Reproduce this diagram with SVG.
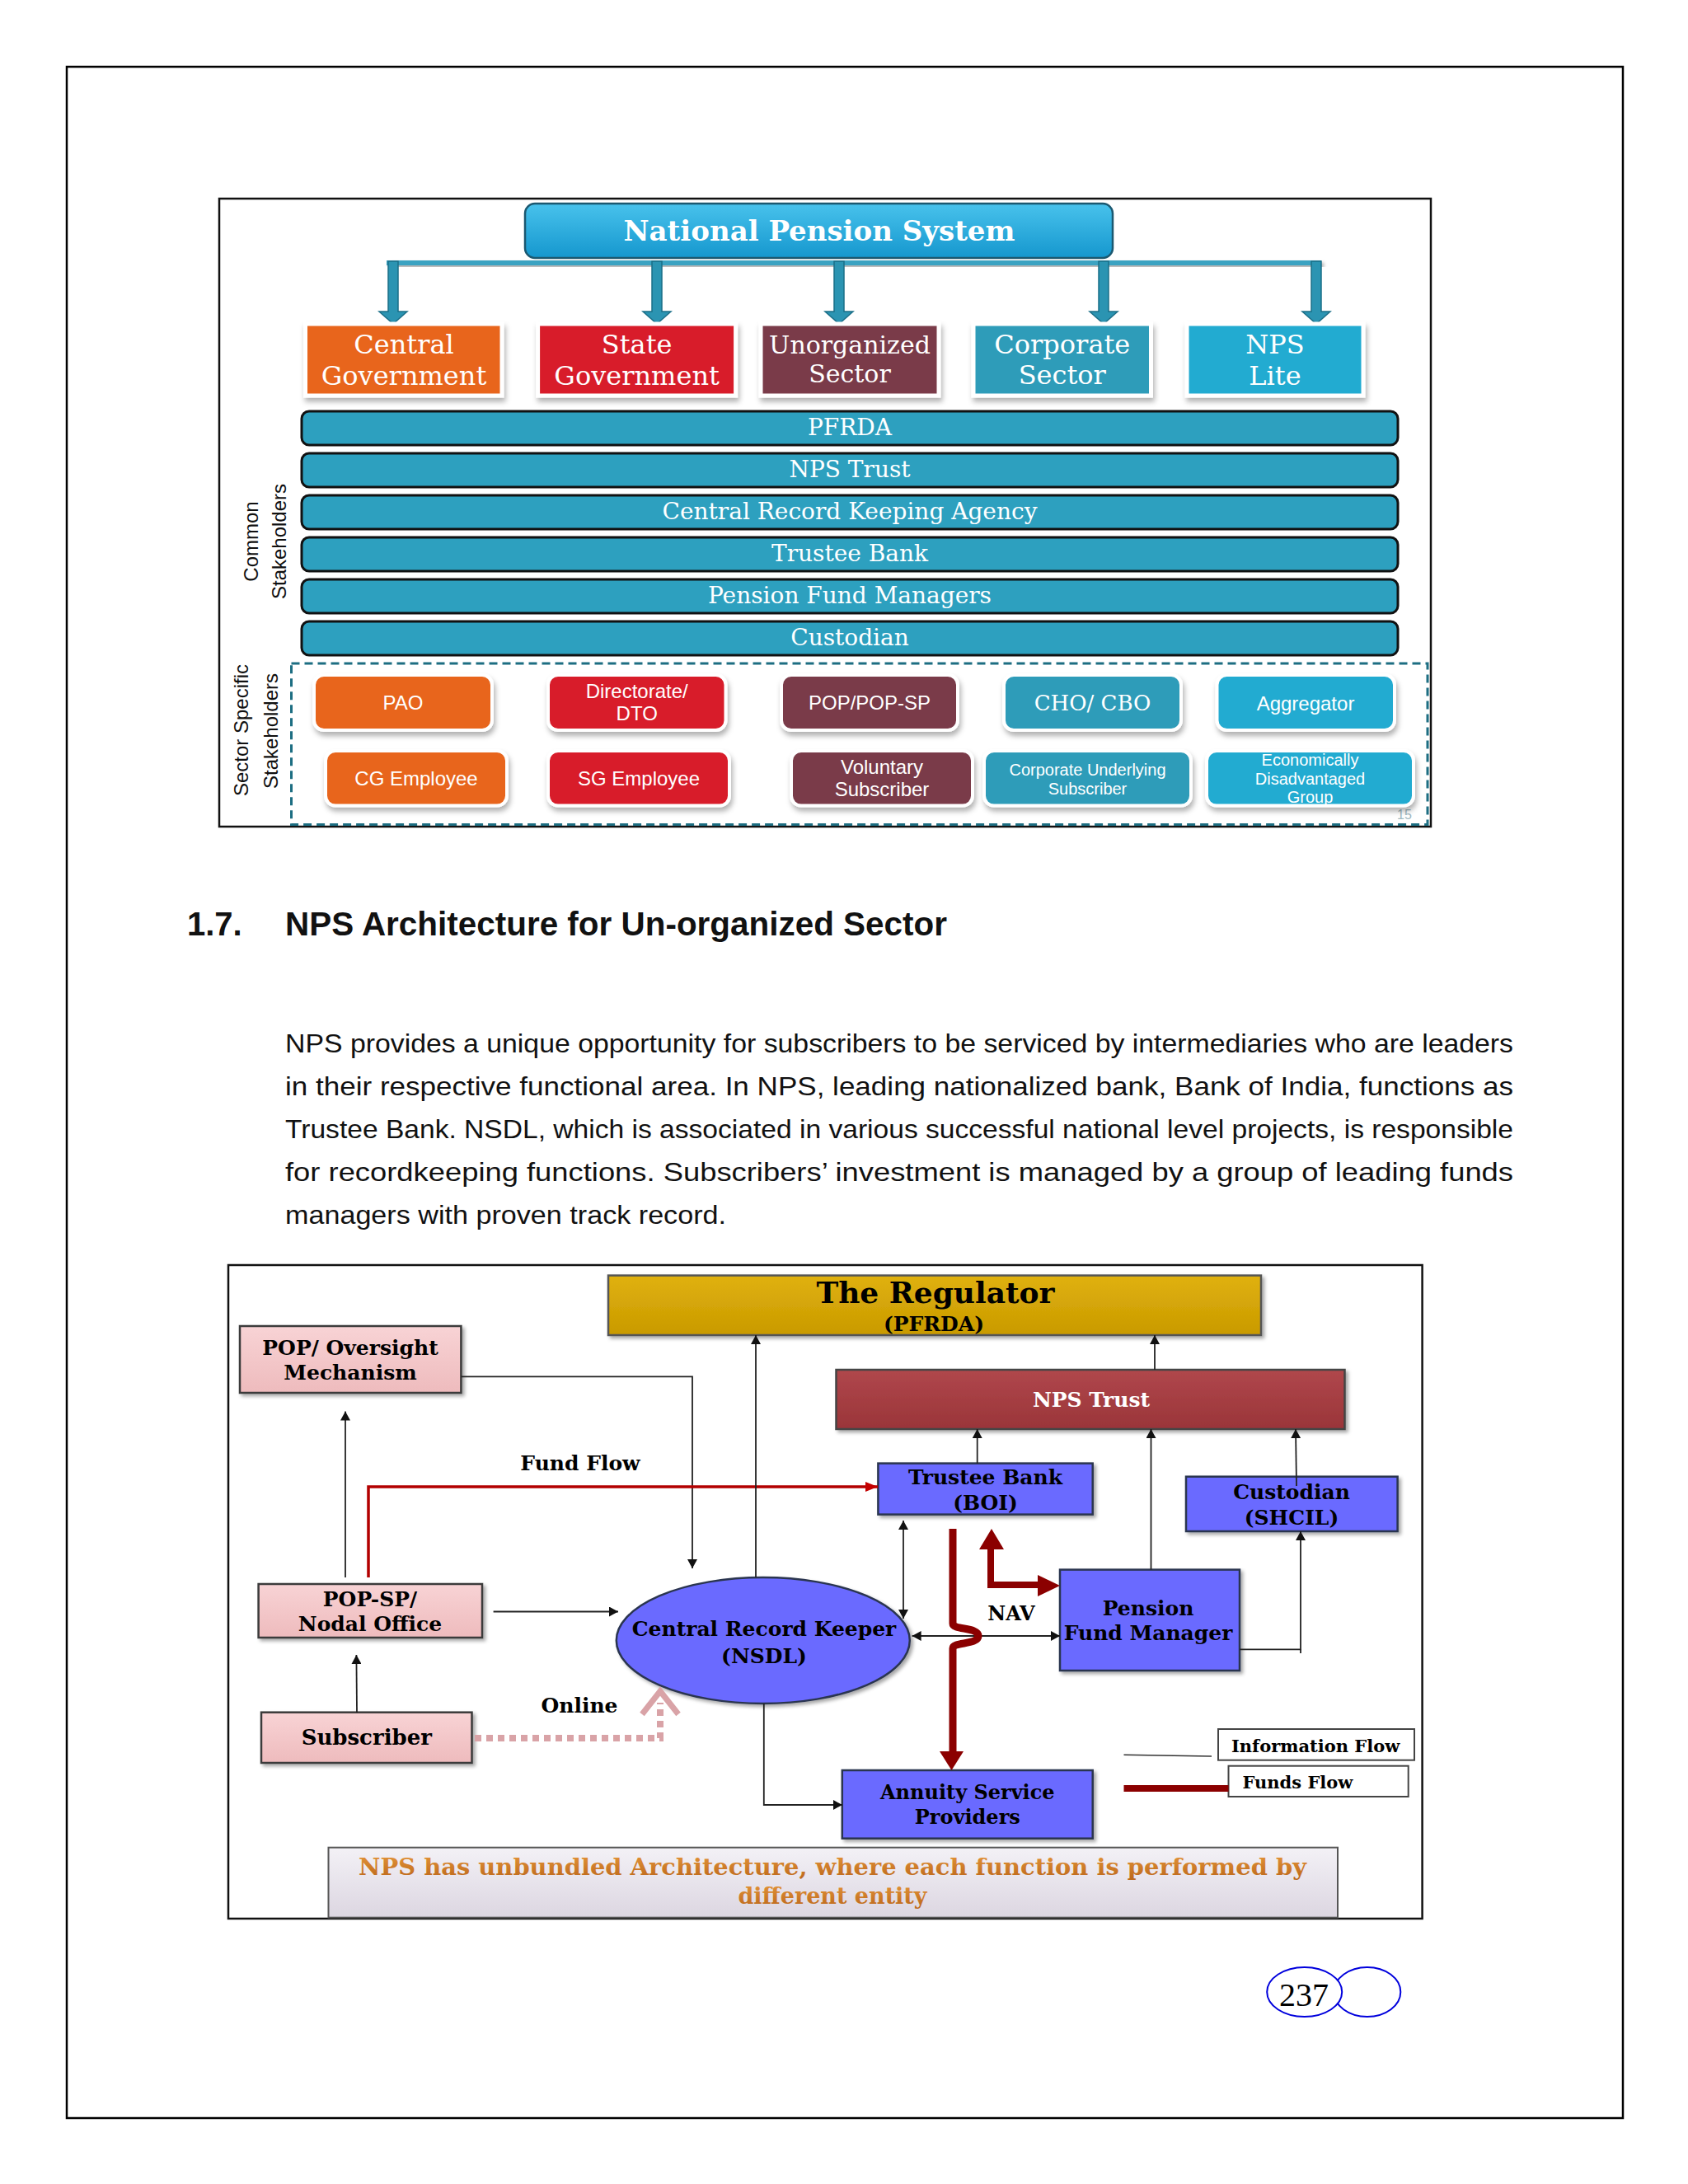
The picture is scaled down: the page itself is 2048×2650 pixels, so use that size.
<svg xmlns="http://www.w3.org/2000/svg" width="2048" height="2650" viewBox="0 0 2048 2650">
<defs>
<filter id="sh" x="-10%" y="-15%" width="125%" height="145%"><feDropShadow dx="2" dy="5" stdDeviation="3" flood-color="#000" flood-opacity="0.3"/></filter>
<filter id="sh2" x="-10%" y="-15%" width="125%" height="145%"><feDropShadow dx="3" dy="3" stdDeviation="2" flood-color="#000" flood-opacity="0.35"/></filter>
<linearGradient id="gHead" x1="0" y1="0" x2="0" y2="1"><stop offset="0" stop-color="#48c2ec"/><stop offset="1" stop-color="#1597ce"/></linearGradient>
<linearGradient id="gReg" x1="0" y1="0" x2="0" y2="1"><stop offset="0" stop-color="#e0b10c"/><stop offset="1" stop-color="#c99a02"/></linearGradient>
<linearGradient id="gTrust" x1="0" y1="0" x2="0" y2="1"><stop offset="0" stop-color="#b0474c"/><stop offset="1" stop-color="#9a3539"/></linearGradient>
<linearGradient id="gPink" x1="0" y1="0" x2="0" y2="1"><stop offset="0" stop-color="#f8d3d5"/><stop offset="1" stop-color="#eebbbd"/></linearGradient>
<linearGradient id="gSum" x1="0" y1="0" x2="0" y2="1"><stop offset="0" stop-color="#f3f1f6"/><stop offset="1" stop-color="#dcd6e1"/></linearGradient>
<linearGradient id="gOr" x1="0" y1="0" x2="0" y2="1"><stop offset="0" stop-color="#e39438"/><stop offset="1" stop-color="#bb661b"/></linearGradient>
<marker id="ah" viewBox="0 0 11 12" refX="11" refY="6" markerWidth="11" markerHeight="12" markerUnits="userSpaceOnUse" orient="auto-start-reverse"><path d="M0,0 L11,6 L0,12 z" fill="#111"/></marker>
<marker id="ahr" viewBox="0 0 15 12" refX="15" refY="6" markerWidth="15" markerHeight="12" markerUnits="userSpaceOnUse" orient="auto"><path d="M0,0 L15,6 L0,12 z" fill="#c40000"/></marker>
</defs>
<style>
.cat{font-family:"DejaVu Serif","Liberation Serif",serif;font-size:32px;fill:#fff;text-anchor:middle}
.bar{fill:#2da0bf;stroke:#111;stroke-width:3}
.bart{font-family:"DejaVu Serif","Liberation Serif",serif;font-size:28px;fill:#fff;text-anchor:middle}
.ss{font-family:"Liberation Sans",Arial,sans-serif;font-size:24px;fill:#fff;text-anchor:middle}
.ssm{font-family:"Liberation Sans",Arial,sans-serif;font-size:20px;fill:#fff;text-anchor:middle}
.lbl{font-family:"Liberation Sans",Arial,sans-serif;font-size:24px;fill:#111;text-anchor:middle}
.b{font-family:"DejaVu Serif","Liberation Serif",serif;font-weight:bold;font-size:25px;fill:#000;text-anchor:middle}
.bs{font-family:"DejaVu Serif","Liberation Serif",serif;font-weight:bold;font-size:21px;fill:#000}
.pink{fill:url(#gPink);stroke:#3a3a3a;stroke-width:2.5}
.blue{fill:#6a6aff;stroke:#2b3550;stroke-width:2.5}
.ln{fill:none;stroke:#222;stroke-width:1.8}
.para{font-family:"Liberation Sans",Arial,sans-serif;font-size:32px;fill:#111}
.tarr{fill:#2b94b2;stroke:#1b6f88;stroke-width:1.5}
.cbox{stroke:#fff;stroke-width:5}
.sbox{stroke:#fff;stroke-width:4}
.red{fill:none;stroke:#8b0000;stroke-width:9}
</style>
<rect x="0" y="0" width="2048" height="2650" fill="#fff"/>
<rect x="81" y="81" width="1888" height="2489" fill="none" stroke="#000" stroke-width="2.5"/>

<!-- ============ TOP DIAGRAM ============ -->
<rect x="266" y="241" width="1470" height="762" fill="none" stroke="#111" stroke-width="2.5"/>

<g id="top-connectors">
<rect x="469" y="316" width="1134" height="6" fill="#3aa3c2" filter="url(#sh2)"/>
<polygon class="tarr" points="471,317 483,317 483,378 494,378 477,393 460,378 471,378"/>
<polygon class="tarr" points="791,317 803,317 803,378 814,378 797,393 780,378 791,378"/>
<polygon class="tarr" points="1012,317 1024,317 1024,378 1035,378 1018,393 1001,378 1012,378"/>
<polygon class="tarr" points="1333,317 1345,317 1345,378 1356,378 1339,393 1322,378 1333,378"/>
<polygon class="tarr" points="1591,317 1603,317 1603,378 1614,378 1597,393 1580,378 1591,378"/>
</g>

<g id="nps-header">
<rect x="637" y="247" width="713" height="66" rx="12" fill="url(#gHead)" stroke="#1b5870" stroke-width="2.5"/>
<text x="994" y="292" font-family="DejaVu Serif, Liberation Serif, serif" font-weight="bold" font-size="34" fill="#fff" text-anchor="middle">National Pension System</text>
</g>

<g id="cat-central">
<rect class="cbox" x="370.5" y="393" width="238.5" height="87" fill="#e8651d" filter="url(#sh)"/>
<text class="cat" x="490" y="429">Central</text><text class="cat" x="490" y="467">Government</text>
</g>
<g id="cat-state">
<rect class="cbox" x="652.6" y="393" width="240" height="87" fill="#d81f2a" filter="url(#sh)"/>
<text class="cat" x="772.6" y="429">State</text><text class="cat" x="772.6" y="467">Government</text>
</g>
<g id="cat-unorg">
<rect class="cbox" x="923" y="393" width="216" height="87" fill="#7a3a49" filter="url(#sh)"/>
<text class="cat" x="1031" y="429" style="font-size:30px">Unorganized</text><text class="cat" x="1031" y="464" style="font-size:30px">Sector</text>
</g>
<g id="cat-corporate">
<rect class="cbox" x="1181" y="393" width="215.5" height="87" fill="#2f9cb9" filter="url(#sh)"/>
<text class="cat" x="1288.8" y="429">Corporate</text><text class="cat" x="1288.8" y="466">Sector</text>
</g>
<g id="cat-npslite">
<rect class="cbox" x="1440" y="393" width="214" height="87" fill="#23abd1" filter="url(#sh)"/>
<text class="cat" x="1547" y="429">NPS</text><text class="cat" x="1547" y="467">Lite</text>
</g>

<g id="bar-pfrda"><rect class="bar" x="366" y="499" width="1330" height="41" rx="9"/><text class="bart" x="1031" y="528">PFRDA</text></g>
<g id="bar-npstrust"><rect class="bar" x="366" y="550" width="1330" height="41" rx="9"/><text class="bart" x="1031" y="579">NPS Trust</text></g>
<g id="bar-crka"><rect class="bar" x="366" y="601" width="1330" height="41" rx="9"/><text class="bart" x="1031" y="630">Central Record Keeping Agency</text></g>
<g id="bar-trustee"><rect class="bar" x="366" y="652" width="1330" height="41" rx="9"/><text class="bart" x="1031" y="681">Trustee Bank</text></g>
<g id="bar-pfm"><rect class="bar" x="366" y="703" width="1330" height="41" rx="9"/><text class="bart" x="1031" y="732">Pension Fund Managers</text></g>
<g id="bar-custodian"><rect class="bar" x="366" y="754" width="1330" height="41" rx="9"/><text class="bart" x="1031" y="783">Custodian</text></g>

<g id="label-common">
<text class="lbl" transform="translate(313,657) rotate(-90)">Common</text>
<text class="lbl" transform="translate(347,657) rotate(-90)">Stakeholders</text>
</g>
<g id="label-sector">
<text class="lbl" transform="translate(301,886) rotate(-90)">Sector Specific</text>
<text class="lbl" transform="translate(337,887) rotate(-90)">Stakeholders</text>
</g>

<g id="sector-specific">
<rect x="353.5" y="805" width="1378.5" height="195.6" fill="none" stroke="#1d6e82" stroke-width="3" stroke-dasharray="10 6"/>
<text x="1704" y="994" font-family="Liberation Sans, sans-serif" font-size="16" fill="#9fb8c0" text-anchor="middle">15</text>
</g>
<g id="ss-pao"><rect class="sbox" x="381" y="819" width="216" height="67" rx="12" fill="#e8651d" filter="url(#sh)"/><text class="ss" x="489" y="861">PAO</text></g>
<g id="ss-dto"><rect class="sbox" x="665" y="819" width="215.5" height="67" rx="12" fill="#d81f2a" filter="url(#sh)"/><text class="ss" x="772.7" y="847">Directorate/</text><text class="ss" x="772.7" y="874">DTO</text></g>
<g id="ss-pop"><rect class="sbox" x="948" y="819" width="214" height="67" rx="12" fill="#7a3a49" filter="url(#sh)"/><text class="ss" x="1055" y="861">POP/POP-SP</text></g>
<g id="ss-cho"><rect class="sbox" x="1218" y="819" width="215" height="67" rx="12" fill="#2f9cb9" filter="url(#sh)"/><text x="1325.5" y="862" font-family="DejaVu Serif, Liberation Serif, serif" font-size="26" fill="#fff" text-anchor="middle">CHO/ CBO</text></g>
<g id="ss-aggregator"><rect class="sbox" x="1476.5" y="819" width="215.5" height="67" rx="12" fill="#23abd1" filter="url(#sh)"/><text class="ss" x="1584" y="862">Aggregator</text></g>
<g id="ss-cg"><rect class="sbox" x="395" y="911" width="220" height="66.6" rx="12" fill="#e8651d" filter="url(#sh)"/><text class="ss" x="505" y="953">CG Employee</text></g>
<g id="ss-sg"><rect class="sbox" x="665" y="911" width="220" height="66.6" rx="12" fill="#d81f2a" filter="url(#sh)"/><text class="ss" x="775" y="953">SG Employee</text></g>
<g id="ss-voluntary"><rect class="sbox" x="960" y="911" width="220" height="66.6" rx="12" fill="#7a3a49" filter="url(#sh)"/><text class="ss" x="1070" y="939">Voluntary</text><text class="ss" x="1070" y="966">Subscriber</text></g>
<g id="ss-corp-sub"><rect class="sbox" x="1194" y="911" width="251" height="66.6" rx="12" fill="#2f9cb9" filter="url(#sh)"/><text class="ssm" x="1319.5" y="941">Corporate Underlying</text><text class="ssm" x="1319.5" y="964">Subscriber</text></g>
<g id="ss-edg"><rect class="sbox" x="1464" y="911" width="251" height="66.6" rx="12" fill="#23abd1" filter="url(#sh)"/><text class="ssm" x="1589.5" y="929">Economically</text><text class="ssm" x="1589.5" y="952">Disadvantaged</text><text class="ssm" x="1589.5" y="974">Group</text></g>

<!-- ============ TEXT ============ -->
<g id="heading">
<text x="227" y="1135" font-family="Liberation Sans, Arial, sans-serif" font-weight="bold" font-size="40" fill="#111">1.7.</text>
<text x="346" y="1135" font-family="Liberation Sans, Arial, sans-serif" font-weight="bold" font-size="40" fill="#111" textLength="803" lengthAdjust="spacingAndGlyphs">NPS Architecture for Un-organized Sector</text>
</g>
<g id="paragraph">
<text class="para" x="346" y="1277" textLength="1490" lengthAdjust="spacingAndGlyphs">NPS provides a unique opportunity for subscribers to be serviced by intermediaries who are leaders</text>
<text class="para" x="346" y="1329" textLength="1490" lengthAdjust="spacingAndGlyphs">in their respective functional area. In NPS, leading nationalized bank, Bank of India, functions as</text>
<text class="para" x="346" y="1381" textLength="1490" lengthAdjust="spacingAndGlyphs">Trustee Bank. NSDL, which is associated in various successful national level projects, is responsible</text>
<text class="para" x="346" y="1433" textLength="1490" lengthAdjust="spacingAndGlyphs">for recordkeeping functions. Subscribers’ investment is managed by a group of leading funds</text>
<text class="para" x="346" y="1485" textLength="535" lengthAdjust="spacingAndGlyphs">managers with proven track record.</text>
</g>

<!-- ============ BOTTOM DIAGRAM ============ -->
<rect x="277" y="1535" width="1448.6" height="793" fill="none" stroke="#111" stroke-width="2.5"/>

<g id="regulator">
<rect x="738" y="1547.6" width="792" height="72.4" fill="url(#gReg)" stroke="#555" stroke-width="2.5" filter="url(#sh2)"/>
<text class="b" x="1135" y="1581" style="font-size:36px">The Regulator</text>
<text class="b" x="1133" y="1615" style="font-size:25px">(PFRDA)</text>
</g>
<g id="nps-trust">
<rect x="1014.5" y="1662" width="617" height="72" fill="url(#gTrust)" stroke="#444" stroke-width="2.5" filter="url(#sh2)"/>
<text class="b" x="1324" y="1707" style="fill:#fff">NPS Trust</text>
</g>
<g id="pop-oversight">
<rect class="pink" x="291" y="1609" width="268.4" height="81" filter="url(#sh2)"/>
<text class="b" x="425" y="1644">POP/ Oversight</text>
<text class="b" x="425" y="1674">Mechanism</text>
</g>
<g id="pop-sp">
<rect class="pink" x="313.6" y="1922" width="271.4" height="65" filter="url(#sh2)"/>
<text class="b" x="449" y="1948.6">POP-SP/</text>
<text class="b" x="449" y="1979">Nodal Office</text>
</g>
<g id="subscriber">
<rect class="pink" x="317" y="2077.7" width="255.5" height="61.3" filter="url(#sh2)"/>
<text class="b" x="444.8" y="2117" style="font-size:26px">Subscriber</text>
</g>
<g id="crk">
<ellipse cx="925.8" cy="1990.5" rx="178" ry="76.5" fill="#6a6aff" stroke="#2b3550" stroke-width="2.5" filter="url(#sh2)"/>
<text class="b" x="927" y="1985">Central Record Keeper</text>
<text class="b" x="927" y="2017.5">(NSDL)</text>
</g>
<g id="trustee-bank">
<rect class="blue" x="1065.4" y="1775.6" width="260.3" height="62" filter="url(#sh2)"/>
<text class="b" x="1195.5" y="1801">Trustee Bank</text>
<text class="b" x="1195.5" y="1832">(BOI)</text>
</g>
<g id="custodian">
<rect class="blue" x="1439" y="1791.7" width="256.6" height="66.3" filter="url(#sh2)"/>
<text class="b" x="1567" y="1818.5">Custodian</text>
<text class="b" x="1567" y="1850">(SHCIL)</text>
</g>
<g id="pfm">
<rect class="blue" x="1286" y="1904.6" width="218" height="122.4" filter="url(#sh2)"/>
<text class="b" x="1393" y="1960">Pension</text>
<text class="b" x="1393" y="1990">Fund Manager</text>
</g>
<g id="annuity">
<rect class="blue" x="1021.8" y="2148" width="303.9" height="82.7" filter="url(#sh2)"/>
<text class="b" x="1173.8" y="2183" style="font-size:24px">Annuity Service</text>
<text class="b" x="1173.8" y="2213" style="font-size:24px">Providers</text>
</g>
<g id="summary">
<rect x="398.5" y="2241.7" width="1224.5" height="85" fill="url(#gSum)" stroke="#555" stroke-width="2"/>
<text class="b" x="1010" y="2275" style="font-size:27px;fill:url(#gOr)" textLength="1150" lengthAdjust="spacingAndGlyphs">NPS has unbundled Architecture, where each function is performed by</text>
<text class="b" x="1010" y="2310" style="font-size:27px;fill:url(#gOr)">different entity</text>
</g>
<g id="legend">
<rect x="1478" y="2098" width="238" height="37.7" fill="#fff" stroke="#444" stroke-width="2"/>
<text class="bs" x="1494" y="2126">Information Flow</text>
<rect x="1490.5" y="2142.7" width="218.2" height="37.3" fill="#fff" stroke="#444" stroke-width="2"/>
<text class="bs" x="1507.5" y="2170">Funds Flow</text>
<line x1="1363.5" y1="2129.3" x2="1470" y2="2131" stroke="#333" stroke-width="1.5"/>
<line x1="1363.5" y1="2170" x2="1490.5" y2="2170" stroke="#8b0000" stroke-width="8"/>
</g>

<g id="connectors">
<polyline class="ln" points="559.4,1670.4 840,1670.4 840,1903" marker-end="url(#ah)"/>
<line class="ln" x1="419" y1="1914" x2="419" y2="1712.5" marker-end="url(#ah)"/>
<polyline points="447,1914 447,1804 1065,1804" fill="none" stroke="#b30000" stroke-width="3.5" marker-end="url(#ahr)"/>
<text class="b" x="704" y="1784">Fund Flow</text>
<line class="ln" x1="598.6" y1="1955.5" x2="750" y2="1955.5" marker-end="url(#ah)"/>
<line class="ln" x1="433" y1="2077.7" x2="432.4" y2="2008" marker-end="url(#ah)"/>
<line class="ln" x1="917" y1="1914" x2="917" y2="1620" marker-end="url(#ah)"/>
<path d="M576,2109 H801 V2066" fill="none" stroke="#d9a3a7" stroke-width="8" stroke-dasharray="8 6"/>
<polyline points="779,2080 801,2052 823,2080" fill="none" stroke="#d9a3a7" stroke-width="7"/>
<text class="b" x="703" y="2078">Online</text>
<polyline class="ln" points="926.8,2067 926.8,2190 1021.8,2190" marker-end="url(#ah)"/>
<line class="ln" x1="1096" y1="1845" x2="1096" y2="1964" marker-start="url(#ah)" marker-end="url(#ah)"/>
<line class="ln" x1="1106.6" y1="1985" x2="1286" y2="1985" marker-start="url(#ah)" marker-end="url(#ah)"/>
<text class="b" x="1227" y="1966" style="font-size:24px">NAV</text>
<path class="red" d="M1156,1855 V1970 C1156,1978 1187,1974 1187,1985 C1187,1996 1156,1992 1156,2000 V2127"/>
<polygon points="1140,2125 1169,2125 1154.5,2148" fill="#8b0000"/>
<path d="M1202,1878 V1923 H1262" fill="none" stroke="#8b0000" stroke-width="8"/>
<polygon points="1188,1880 1218,1880 1203,1855" fill="#8b0000"/>
<polygon points="1259,1911 1259,1937 1286,1924" fill="#8b0000"/>
<line class="ln" x1="1185.7" y1="1775.6" x2="1185.7" y2="1734" marker-end="url(#ah)"/>
<line class="ln" x1="1396.5" y1="1904.6" x2="1396.5" y2="1734" marker-end="url(#ah)"/>
<line class="ln" x1="1573" y1="1803" x2="1572" y2="1734" marker-end="url(#ah)"/>
<polyline class="ln" points="1504,2001.4 1578,2001.4 1578,1858" marker-end="url(#ah)"/>
<line class="ln" x1="1578" y1="2001" x2="1578" y2="2006"/>
<line class="ln" x1="1401" y1="1662" x2="1401" y2="1620" marker-end="url(#ah)"/>
</g>

<g id="page-number">
<ellipse cx="1658.8" cy="2417" rx="40.5" ry="30" fill="#fff" stroke="#0000dd" stroke-width="2"/>
<ellipse cx="1582.7" cy="2417" rx="45.5" ry="30" fill="#fff" stroke="#0000dd" stroke-width="2"/>
<text x="1582" y="2434" font-family="Liberation Serif, Times New Roman, serif" font-size="40" fill="#000" text-anchor="middle">237</text>
</g>
</svg>
